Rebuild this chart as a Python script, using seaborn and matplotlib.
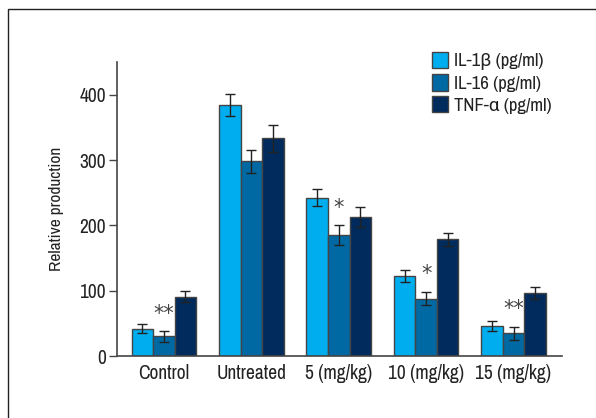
import pandas as pd
import matplotlib
matplotlib.use("Agg")
import matplotlib.pyplot as plt
import matplotlib.font_manager as fm
import seaborn as sns
from matplotlib.patches import Rectangle, Patch

groups = ["Control", "Untreated", "5 (mg/kg)", "10 (mg/kg)", "15 (mg/kg)"]
series = ["IL-1β (pg/ml)", "IL-16 (pg/ml)", "TNF-α (pg/ml)"]
il1b = [42, 384, 242, 123, 46]
il16 = [30, 298, 185, 88, 35]
tnfa = [91, 333, 213, 179, 97]
il1b_err = [7.5, 17, 13, 9, 8]
il16_err = [8, 18, 15, 10, 10]
tnfa_err = [9, 21, 15, 10, 9]
stars = ["**", "", "*", "*", "**"]
colors = ["#00AEEF", "#0069A3", "#002B5C"]

# look for a narrow face, the original uses a condensed font
narrow_name, narrow_stretch = None, "normal"
for f in fm.fontManager.ttflist:
    if f.style != "normal" or f.weight not in (400, "normal", "regular"):
        continue
    low = f.name.lower()
    if "narrow" in low or "condensed" in low:
        if "extra" in low or "semi" in low:
            continue
        narrow_name = f.name
        break
if narrow_name is None:
    for f in fm.fontManager.ttflist:
        if f.style == "normal" and f.weight in (400, "normal") and str(f.stretch) == "condensed":
            narrow_name, narrow_stretch = f.name, "condensed"
            break
if narrow_name is None:
    narrow_name = "Roboto"

sns.set_style("white")
plt.rcParams["font.family"] = [narrow_name, "Roboto", "DejaVu Sans"]
plt.rcParams["font.stretch"] = narrow_stretch

rows = []
for s, vals in zip(series, [il1b, il16, tnfa]):
    for g, v in zip(groups, vals):
        rows.append({"group": g, "series": s, "value": v})
df = pd.DataFrame(rows)

fig = plt.figure(figsize=(5.96, 4.18), dpi=100)
ax = fig.add_axes([0.1963, 0.1483, 0.7466, 0.7033])

sns.barplot(data=df, x="group", y="value", hue="series", palette=colors,
            width=0.74, errorbar=None, edgecolor="#444444", linewidth=1.0,
            saturation=1, ax=ax, legend=False)

# error bars on the bar centres seaborn produced
for cont, vals, errs in zip(ax.containers, [il1b, il16, tnfa],
                            [il1b_err, il16_err, tnfa_err]):
    xs = [b.get_x() + b.get_width() / 2 for b in cont]
    ax.errorbar(xs, vals, yerr=errs, fmt="none", ecolor="#222222",
                elinewidth=1.0, capsize=3.5, capthick=1.0)

# significance marks above the middle bar
for i, st in enumerate(stars):
    if st:
        ax.text(i, il16[i] + il16_err[i] + 27, st, ha="center", va="center",
                fontsize=15, color="#444444", family="DejaVu Sans")

ax.set_xlim(-0.537, 4.554)
ax.set_ylim(0, 450)
ax.set_yticks([0, 100, 200, 300, 400])
ax.set_xlabel("")
ax.set_ylabel("Relative production", fontsize=12.5, color="#222222", labelpad=11)
ax.tick_params(axis="y", length=6, width=1, color="#444444", labelsize=14,
               labelcolor="#222222", pad=2, left=True)
ax.tick_params(axis="x", length=0, labelsize=14, labelcolor="#222222", pad=6)
sns.despine(ax=ax)
for sp in ["left", "bottom"]:
    ax.spines[sp].set_color("#444444")
    ax.spines[sp].set_linewidth(1.2)

handles = [Patch(facecolor=c, edgecolor="#444444", linewidth=1.0) for c in colors]
fig.legend(handles, series, loc="upper left", bbox_to_anchor=(0.725, 0.876),
           frameon=False, fontsize=13.5, handlelength=0.85, handleheight=0.95,
           handletextpad=0.3, labelspacing=0.22, borderaxespad=0, borderpad=0,
           labelcolor="#222222")

fig.patches.append(Rectangle((8 / 596, -0.5), 2, 0.5 + 1 - 9 / 418,
                             transform=fig.transFigure, fill=False,
                             edgecolor="#222222", linewidth=1.0))

fig.savefig("out.png", dpi=100)
